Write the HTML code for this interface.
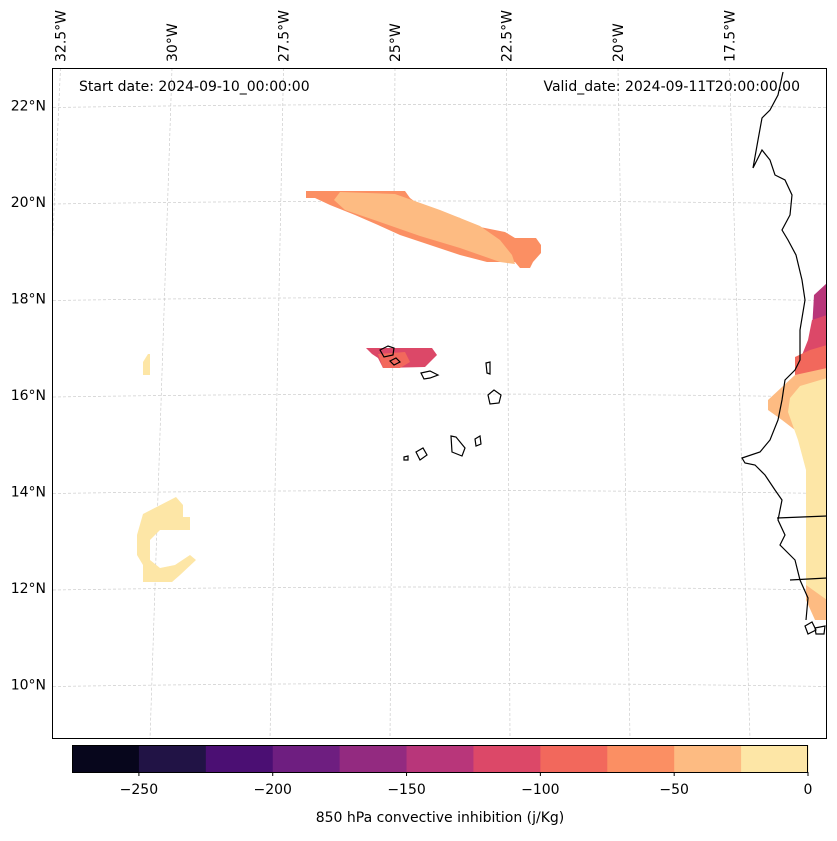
<!DOCTYPE html>
<html><head><meta charset="utf-8"><style>
body{margin:0;background:#fff;font-family:"Liberation Sans","DejaVu Sans",sans-serif}
svg text{font-family:"DejaVu Sans","Liberation Sans",sans-serif;font-size:14px;fill:#000}
</style></head><body>
<svg id="fig" width="837" height="836" viewBox="0 0 837 836" xmlns="http://www.w3.org/2000/svg">
<defs><clipPath id="mapclip"><rect x="52.5" y="68.5" width="774" height="670"/></clipPath></defs>
<rect width="837" height="836" fill="#fff"/>
<g id="grid" clip-path="url(#mapclip)"></g>
<g>
<path fill="#fb8f63" d="M306,191 L405,191 L410,198 L418,204 L460,218 L470,225 L505,232 L515,238 L536,238 L541,245 L541,253 L533,262 L530,268 L520,268 L515,262 L487,262 L460,255 L430,245 L400,235 L378,225 L355,215 L330,205 L315,198 L306,198 Z"/>
<path fill="#fdbb82" d="M340,192 L395,194 L440,210 L480,226 L500,240 L512,255 L515,264 L500,262 L460,248 L420,236 L380,222 L345,210 L334,200 Z"/>
<path fill="#dc4868" d="M366,348 L432,348 L437,355 L425,367 L383,368 L378,358 L372,354 Z"/>
<path fill="#f2685c" d="M378,354 L405,352 L410,362 L400,368 L383,368 Z"/>
<path fill="#fde6a6" d="M143,362 L148,354 L150,354 L150,375 L143,375 Z"/>
<path fill="#fde6a6" d="M143,514 L176,497 L183,505 L183,517 L190,517 L190,530 L160,530 L150,540 L150,560 L160,568 L175,565 L190,555 L196,560 L180,575 L172,582 L143,582 L143,565 L137,555 L137,535 Z"/>
<path fill="#b8367a" d="M814,295 L827,283 L827,330 L812,330 Z"/>
<path fill="#dc4868" d="M812,320 L827,315 L827,360 L800,360 L808,340 Z"/>
<path fill="#f2685c" d="M795,357 L810,350 L827,345 L827,385 L795,380 Z"/>
<path fill="#fdbb82" d="M768,400 L795,375 L827,368 L827,620 L815,620 L806,600 L806,440 L795,430 L782,420 L768,410 Z"/>
<path fill="#fde6a6" d="M790,398 L800,386 L827,378 L827,600 L806,585 L806,470 L798,440 L788,412 Z"/>
</g>
<g fill="none" stroke="#000" stroke-width="1.2">
<path d="M783,72 L778,95 L770,110 L762,118 L758,140 L753,168 L762,150 L770,160 L775,175 L785,180 L792,195 L790,215 L782,230 L788,240 L796,255 L802,280 L805,300 L800,330 L800,360 L795,370 L785,380 L782,400 L778,420 L770,440 L760,452 L742,458 L745,463 L755,465 L765,475 L775,490 L782,500 L778,520 L785,535 L780,545 L790,555 L795,560 L800,580 L808,598 L806,620"/>
<path d="M777,518 L827,516"/>
<path d="M790,580 L827,578"/>
<path d="M380,350 L388,346 L394,348 L393,355 L384,357 Z"/>
<path d="M390,361 L396,358 L400,362 L394,365 Z"/>
<path d="M421,373 L430,371 L438,375 L430,378 L424,379 Z"/>
<path d="M486,363 L490,362 L490,374 L487,373 Z"/>
<path d="M488,395 L494,390 L501,395 L499,403 L490,404 Z"/>
<path d="M451,436 L456,437 L465,448 L462,456 L452,452 Z"/>
<path d="M475,439 L480,436 L481,444 L476,446 Z"/>
<path d="M416,452 L423,448 L427,455 L420,460 Z"/>
<path d="M404,457 L408,456 L408,460 L404,460 Z"/>
<path d="M805,626 L812,622 L816,630 L808,634 Z M815,628 L825,626 L824,634 L816,634 Z"/>
</g>
<rect x="52.5" y="68.5" width="774" height="670" fill="none" stroke="#000" stroke-width="1"/>
<text x="79" y="91">Start date: 2024-09-10_00:00:00</text>
<text x="800" y="91" text-anchor="end">Valid_date: 2024-09-11T20:00:00.00</text>
<g id="latlabels"></g>
<g id="lonlabels"></g>
<g id="cbar"></g>
<text x="440" y="822" text-anchor="middle">850 hPa convective inhibition (j/Kg)</text>
</svg>
<script>
const levels=[-275,-250,-225,-200,-175,-150,-125,-100,-75,-50,-25,0];
const colors=["#07061c","#211345","#4b0f73","#6e1e80","#932a80","#b8367a","#dc4868","#f2685c","#fb8f63","#fdbb82","#fde6a6"];
const cbTicks=[-250,-200,-150,-100,-50,0];
const latTicks=[22,20,18,16,14,12,10];
const lonTicks=[-32.5,-30,-27.5,-25,-22.5,-20,-17.5];
const NS="http://www.w3.org/2000/svg";
function mk(t,a,p){const e=document.createElementNS(NS,t);for(const k in a)e.setAttribute(k,a[k]);p.appendChild(e);return e;}
const cbX=v=>72+(v+275)*(808-72)/275;
const latY=l=>202+(20-l)*48.25;
const lonTop=l=>395+(l+25)*44.6;
const lonBot=l=>390+(l+25)*48;
const cb=document.getElementById('cbar');
for(let i=0;i<colors.length;i++){
 const r=mk('rect',{x:cbX(levels[i]),y:745,width:cbX(levels[i+1])-cbX(levels[i])+0.5,height:27,fill:colors[i]},cb);
 
 
}
mk('rect',{x:72.5,y:745.5,width:735,height:27,fill:'none',stroke:'#000','stroke-width':1},cb);
cbTicks.forEach(v=>{
 mk('line',{x1:cbX(v),x2:cbX(v),y1:772,y2:776,stroke:'#000'},cb);
 const t=mk('text',{x:cbX(v),y:794,'text-anchor':'middle'},cb);t.textContent=(v<0?'\u2212'+(-v):v);
 
 
});
const g=document.getElementById('grid');
latTicks.forEach(l=>{
 const y=latY(l);
 const ln=mk('path',{d:`M53,${y+2} Q440,${y-4} 827,${y+2}`,fill:'none',stroke:'#ccc','stroke-width':0.7,'stroke-dasharray':'3,2'},g);
 
 
 const t=mk('text',{x:46,y:y+5,'text-anchor':'end'},document.getElementById('latlabels'));
 t.textContent=l+'\u00b0N';
 
 
});
lonTicks.forEach(l=>{
 const ln=mk('line',{x1:lonTop(l),y1:68,x2:lonBot(l),y2:739,stroke:'#ccc','stroke-width':0.7,'stroke-dasharray':'3,2'},g);
 
 
 const x=lonTop(l)+5,y=62;
 const t=mk('text',{x:x,y:y,transform:`rotate(-90 ${x} ${y})`},document.getElementById('lonlabels'));
 t.textContent=(-l)+'\u00b0W';
 
 
});
</script>
</body></html>
